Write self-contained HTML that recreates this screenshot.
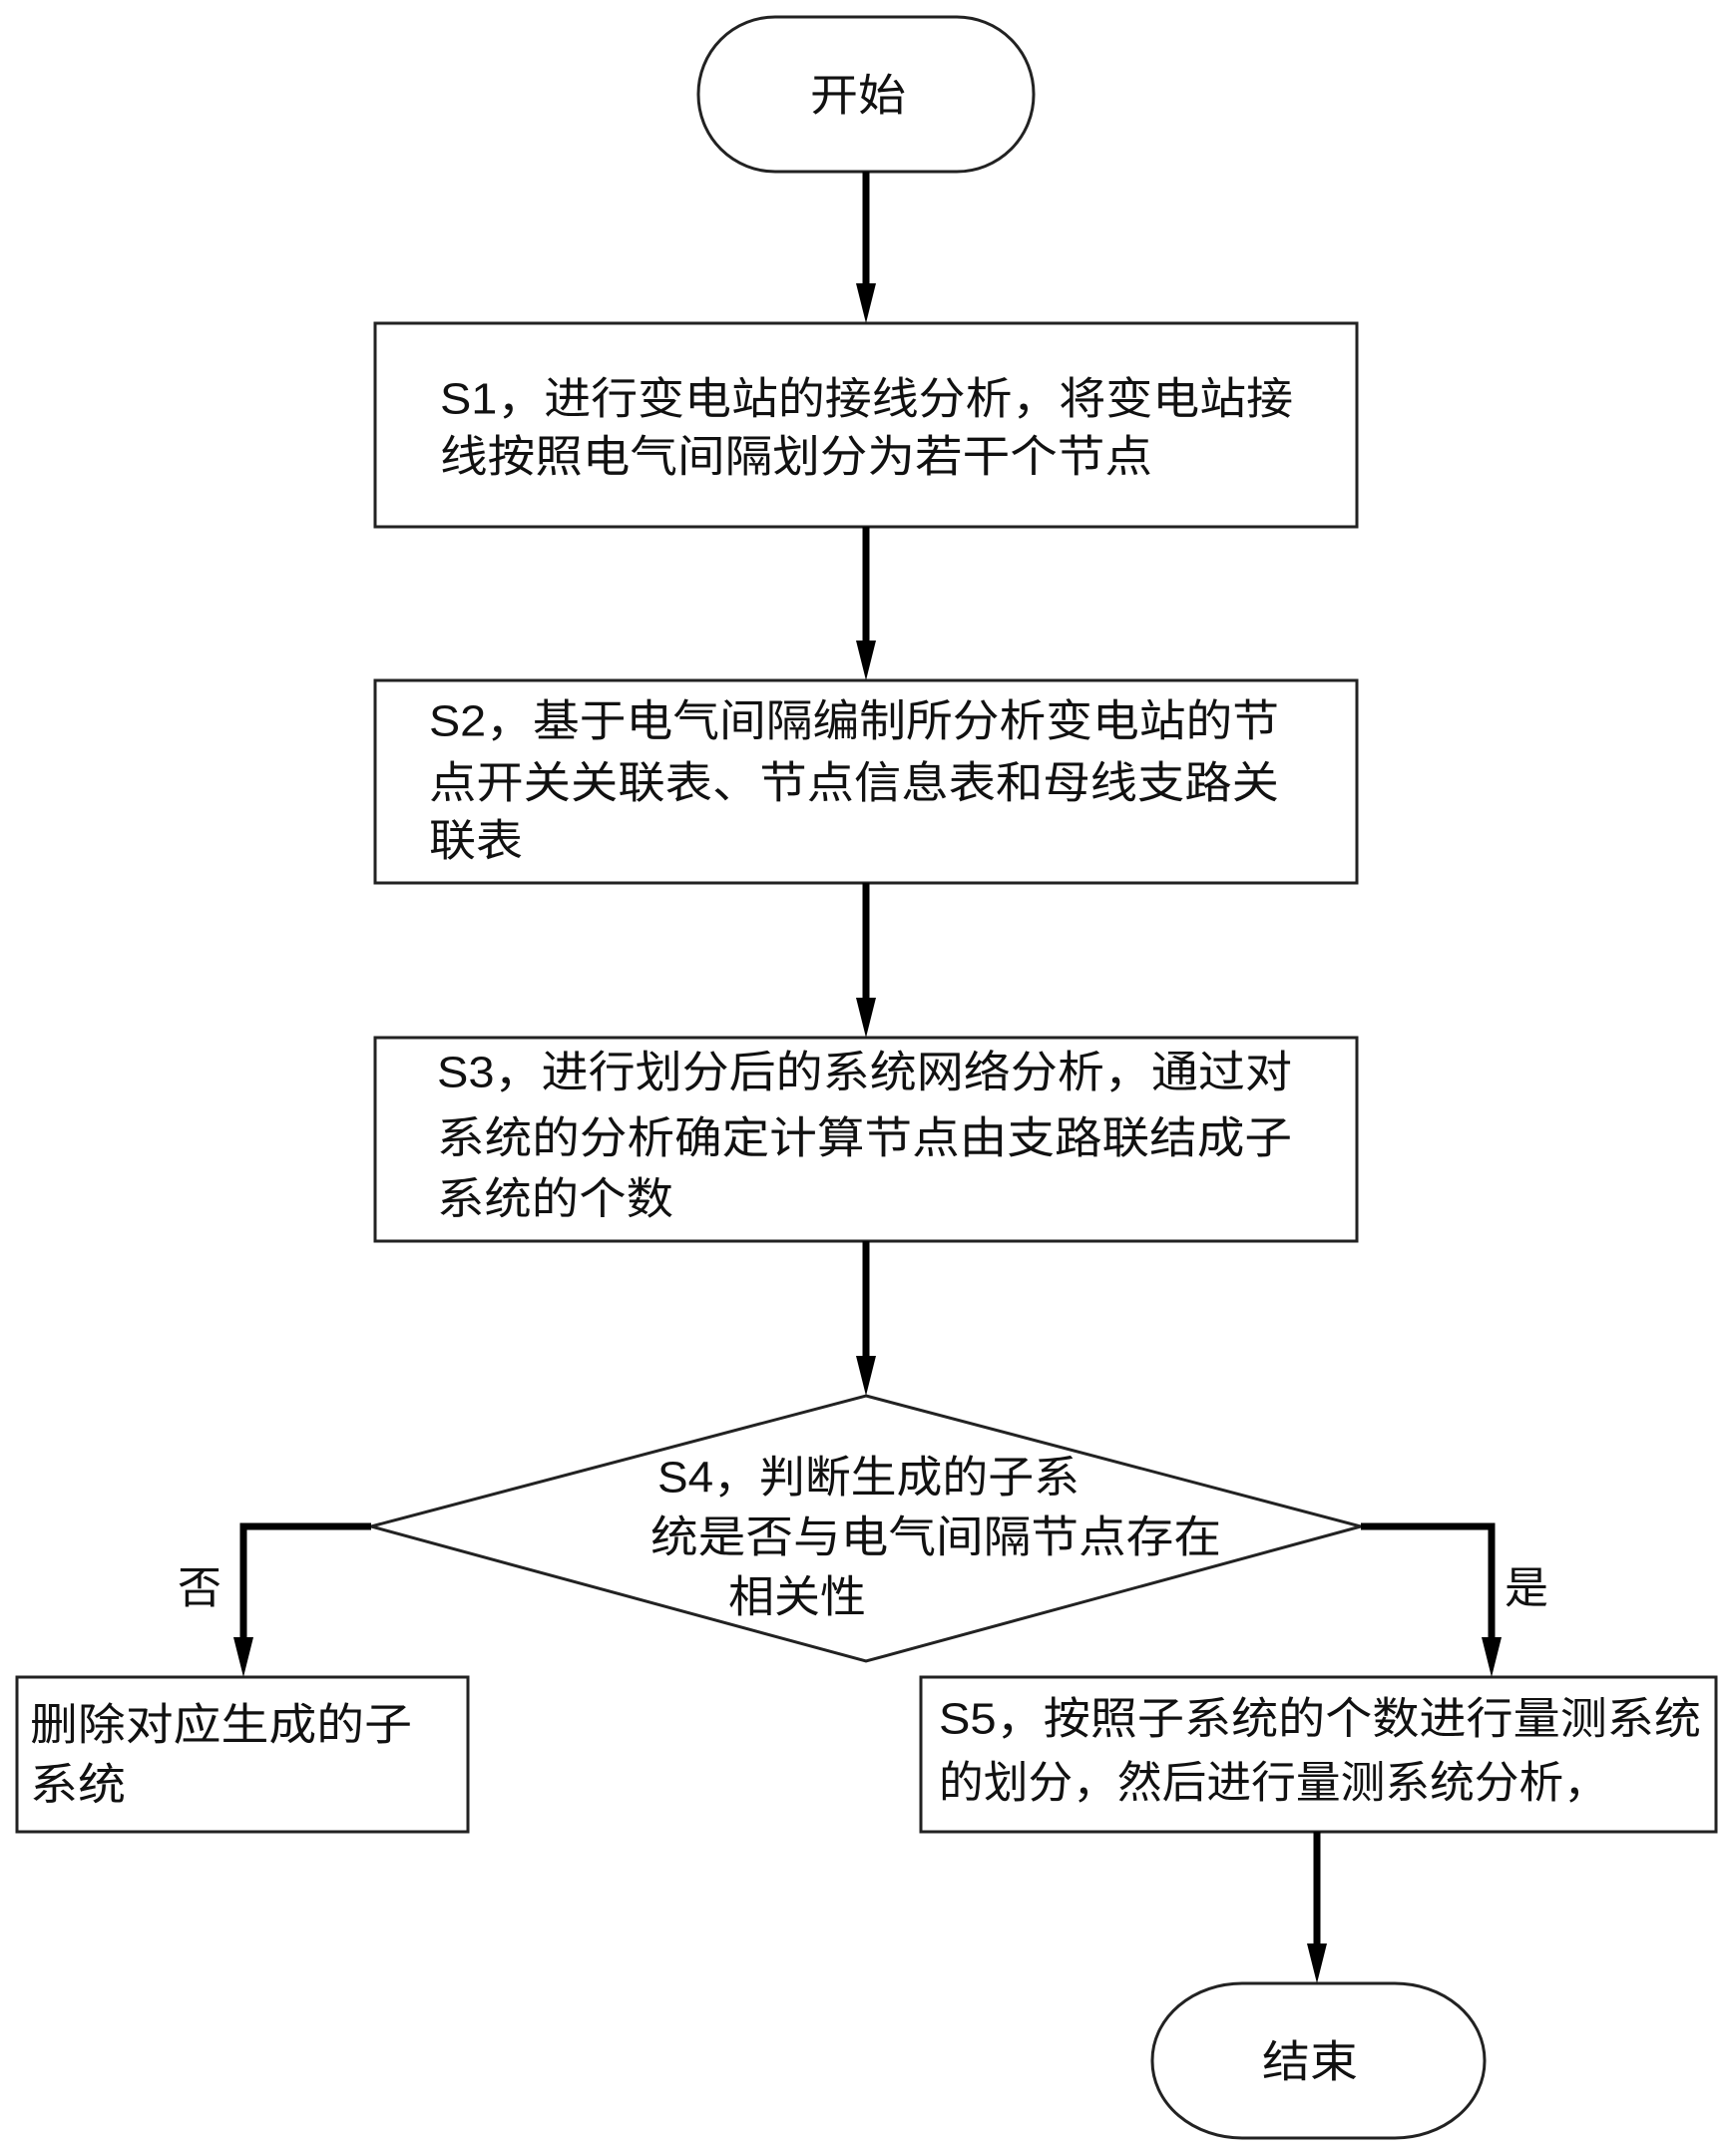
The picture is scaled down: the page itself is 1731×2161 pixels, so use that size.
<!DOCTYPE html>
<html><head><meta charset="utf-8"><style>
html,body{margin:0;padding:0;background:#fff;}
svg text{font-family:"Liberation Sans","Noto Sans CJK SC",sans-serif;font-size:44px;fill:#111;dominant-baseline:central;}
</style></head><body>
<svg width="1731" height="2156" viewBox="0 0 1731 2156" xmlns="http://www.w3.org/2000/svg">
<defs>
<marker id="ah" markerWidth="20" markerHeight="40" refX="10" refY="40" orient="auto" markerUnits="userSpaceOnUse">
<path d="M0,0 L20,0 L10,40 Z" fill="#000"/>
</marker>
</defs>
<g fill="#fff" stroke="#222" stroke-width="3">
<rect x="700" y="17" width="336" height="155" rx="77" ry="77"/>
<rect x="376" y="324" width="984" height="204"/>
<rect x="376" y="682" width="984" height="203"/>
<rect x="376" y="1040" width="984" height="204"/>
<polygon points="868,1399 1364,1530 868,1665 372,1530"/>
<rect x="17" y="1681" width="452" height="155"/>
<rect x="923" y="1681" width="797" height="155"/>
<rect x="1155" y="1988" width="333" height="155" rx="90" ry="77"/>
</g>
<g stroke="#000" stroke-width="7" fill="none">
<line x1="868" y1="172" x2="868" y2="284"/>
<path d="M868,284 L858,284 L868,324 L878,284 Z" fill="#000" stroke="none"/>
<line x1="868" y1="528" x2="868" y2="642"/>
<path d="M858,642 L868,682 L878,642 Z" fill="#000" stroke="none"/>
<line x1="868" y1="885" x2="868" y2="1000"/>
<path d="M858,1000 L868,1040 L878,1000 Z" fill="#000" stroke="none"/>
<line x1="868" y1="1244" x2="868" y2="1359"/>
<path d="M858,1359 L868,1399 L878,1359 Z" fill="#000" stroke="none"/>
<polyline points="372,1530 244,1530 244,1641"/>
<path d="M234,1641 L244,1681 L254,1641 Z" fill="#000" stroke="none"/>
<polyline points="1364,1530 1495,1530 1495,1641"/>
<path d="M1485,1641 L1495,1681 L1505,1641 Z" fill="#000" stroke="none"/>
<line x1="1320" y1="1836" x2="1320" y2="1948"/>
<path d="M1310,1948 L1320,1988 L1330,1948 Z" fill="#000" stroke="none"/>
</g>
<text x="812" y="96" textLength="96" lengthAdjust="spacingAndGlyphs">开始</text>
<text x="441" y="400" textLength="855" lengthAdjust="spacingAndGlyphs">S1，进行变电站的接线分析，将变电站接</text>
<text x="441" y="458" textLength="714" lengthAdjust="spacingAndGlyphs">线按照电气间隔划分为若干个节点</text>
<text x="430" y="723" textLength="852" lengthAdjust="spacingAndGlyphs">S2，基于电气间隔编制所分析变电站的节</text>
<text x="430" y="785" textLength="852" lengthAdjust="spacingAndGlyphs">点开关关联表、节点信息表和母线支路关</text>
<text x="430" y="843" textLength="94" lengthAdjust="spacingAndGlyphs">联表</text>
<text x="438" y="1075" textLength="857" lengthAdjust="spacingAndGlyphs">S3，进行划分后的系统网络分析，通过对</text>
<text x="438" y="1141" textLength="857" lengthAdjust="spacingAndGlyphs">系统的分析确定计算节点由支路联结成子</text>
<text x="438" y="1202" textLength="237" lengthAdjust="spacingAndGlyphs">系统的个数</text>
<text x="659" y="1481" textLength="423" lengthAdjust="spacingAndGlyphs">S4，判断生成的子系</text>
<text x="652" y="1541" textLength="572" lengthAdjust="spacingAndGlyphs">统是否与电气间隔节点存在</text>
<text x="730" y="1601" textLength="138" lengthAdjust="spacingAndGlyphs">相关性</text>
<text x="178" y="1592">否</text>
<text x="1508" y="1592">是</text>
<text x="30" y="1729" textLength="383" lengthAdjust="spacingAndGlyphs">删除对应生成的子</text>
<text x="30" y="1789" textLength="96" lengthAdjust="spacingAndGlyphs">系统</text>
<text x="941" y="1723" textLength="764" lengthAdjust="spacingAndGlyphs">S5，按照子系统的个数进行量测系统</text>
<text x="941" y="1787" textLength="671" lengthAdjust="spacingAndGlyphs">的划分，然后进行量测系统分析，</text>
<text x="1265" y="2067" textLength="96" lengthAdjust="spacingAndGlyphs">结束</text>
</svg>
</body></html>
